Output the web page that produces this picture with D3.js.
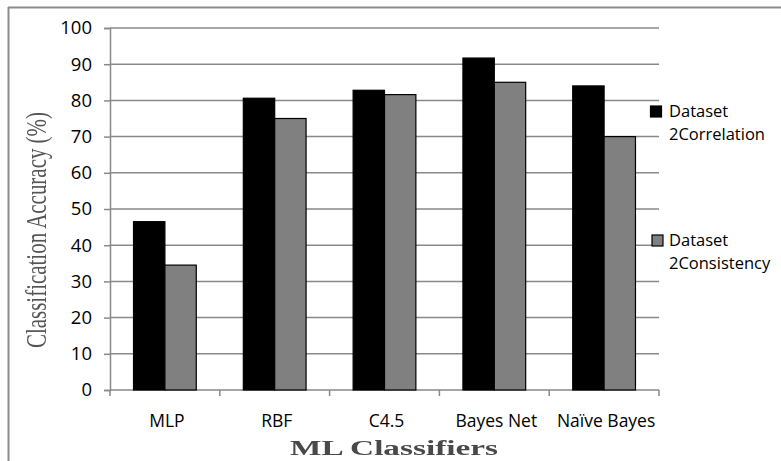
<!DOCTYPE html>
<html>
<head>
<meta charset="utf-8">
<script src="https://cdn.jsdelivr.net/npm/d3@7"></script>
<style>
  html, body { margin: 0; padding: 0; background: #fff; }
  svg { display: block; }
</style>
</head>
<body>
<svg id="chart" width="781" height="461"></svg>
<script>
// ---- data ----
const categories = ["MLP", "RBF", "C4.5", "Bayes Net", "Naïve Bayes"];
const seriesNames = ["Dataset 2Correlation", "Dataset 2Consistency"];
const legendLines = [["Dataset", "2Correlation"], ["Dataset", "2Consistency"]];
const correlationValues = [46.5, 80.6, 82.8, 91.7, 84];
const consistencyValues = [34.5, 75, 81.6, 85, 70];
const yTicks = [0, 10, 20, 30, 40, 50, 60, 70, 80, 90, 100];
const xTitle = "ML Classifiers";
const yTitle = "Classification Accuracy (%)";

// ---- layout ----
const svg = d3.select("#chart");
const plot = { left: 110, right: 659, top: 28, bottom: 390 };
const seriesFill = ["#000000", "#808080"];
const gridColor = "#898989";
const seriesValues = [correlationValues, consistencyValues];

const x0 = d3.scaleBand().domain(categories).range([plot.left, plot.right]).padding(0);
const x1 = d3.scaleBand().domain(seriesNames).range([0, x0.bandwidth()])
  .paddingInner(0).paddingOuter(0.75);
const y = d3.scaleLinear().domain([0, 100]).range([plot.bottom, plot.top]);

// outer frame (left + top visible)
svg.append("line").attr("x1", 8).attr("x2", 781).attr("y1", 7.5).attr("y2", 7.5)
  .attr("stroke", "#8c8c8c").attr("stroke-width", 2);
svg.append("line").attr("x1", 8.5).attr("x2", 8.5).attr("y1", 7).attr("y2", 461)
  .attr("stroke", "#8c8c8c").attr("stroke-width", 2);

// gridlines
svg.append("g").selectAll("line").data(yTicks.filter(d => d > 0)).join("line")
  .attr("x1", plot.left).attr("x2", plot.right)
  .attr("y1", d => y(d)).attr("y2", d => y(d))
  .attr("stroke", gridColor).attr("stroke-width", 1.5);

// y axis
const yAxis = d3.axisLeft(y).tickValues(yTicks).tickSize(6).tickPadding(12).tickFormat(d3.format("d"));
const gy = svg.append("g").attr("transform", `translate(${plot.left},0)`).call(yAxis);
gy.select(".domain").attr("stroke", gridColor).attr("stroke-width", 1.5);
gy.selectAll(".tick line").attr("stroke", gridColor).attr("stroke-width", 1.5);
gy.selectAll(".tick text").attr("font-family", "'Open Sans', sans-serif")
  .attr("font-size", 18.5).attr("fill", "#000");

// x axis
const xTickScale = d3.scaleLinear().domain([0, categories.length]).range([plot.left, plot.right]);
const xBoundaries = d3.range(categories.length + 1);
svg.append("line").attr("x1", plot.left).attr("x2", plot.right)
  .attr("y1", plot.bottom).attr("y2", plot.bottom)
  .attr("stroke", gridColor).attr("stroke-width", 1.5);
svg.append("g").selectAll("line").data(xBoundaries).join("line")
  .attr("x1", d => xTickScale(d)).attr("x2", d => xTickScale(d))
  .attr("y1", plot.bottom).attr("y2", plot.bottom + 6)
  .attr("stroke", gridColor).attr("stroke-width", 1.5);
svg.append("g").selectAll("text").data(categories).join("text")
  .attr("x", d => x0(d) + x0.bandwidth() / 2 + 2)
  .attr("y", 427)
  .attr("text-anchor", "middle")
  .attr("font-family", "'Open Sans', sans-serif")
  .attr("font-size", 17.5).attr("fill", "#000")
  .text(d => d);

// bars
const groups = svg.append("g").selectAll("g").data(categories).join("g")
  .attr("transform", d => `translate(${x0(d)},0)`);
groups.selectAll("rect")
  .data((d, i) => seriesNames.map((s, k) => ({ s, k, v: seriesValues[k][i] })))
  .join("rect")
  .attr("x", d => x1(d.s))
  .attr("y", d => y(d.v))
  .attr("width", x1.bandwidth())
  .attr("height", d => y(0) - y(d.v))
  .attr("fill", d => seriesFill[d.k])
  .attr("stroke", "#000").attr("stroke-width", 1.2);

// legend
const legendPos = [{ sx: 650.5, sy: 106, ty: 117 }, { sx: 652, sy: 235, ty: 246 }];
legendLines.forEach((lines, k) => {
  const p = legendPos[k];
  svg.append("rect").attr("x", p.sx).attr("y", p.sy).attr("width", 11).attr("height", 11)
    .attr("fill", seriesFill[k]).attr("stroke", "#000").attr("stroke-width", 1.2);
  lines.forEach((t, j) => {
    svg.append("text").attr("x", 669).attr("y", p.ty + j * 22.5)
      .attr("font-family", "'Open Sans', sans-serif").attr("font-size", 16.5)
      .attr("fill", "#000").text(t);
  });
});

// axis titles (blurry serif)
const defs = svg.append("defs");
defs.append("filter").attr("id", "soft").append("feGaussianBlur").attr("stdDeviation", 0.6);

svg.append("text")
  .attr("x", 394).attr("y", 455)
  .attr("text-anchor", "middle")
  .attr("font-family", "'Liberation Serif', 'Times New Roman', serif")
  .attr("font-weight", "bold").attr("font-size", 20)
  .attr("textLength", 208).attr("lengthAdjust", "spacingAndGlyphs")
  .attr("fill", "#4a4a4a").attr("filter", "url(#soft)")
  .text(xTitle);

svg.append("text")
  .attr("transform", "translate(46,230) rotate(-90)")
  .attr("text-anchor", "middle")
  .attr("font-family", "'Liberation Serif', 'Times New Roman', serif")
  .attr("font-size", 30)
  .attr("textLength", 236).attr("lengthAdjust", "spacingAndGlyphs")
  .attr("fill", "#555").attr("filter", "url(#soft)")
  .text(yTitle);
</script>
</body>
</html>
